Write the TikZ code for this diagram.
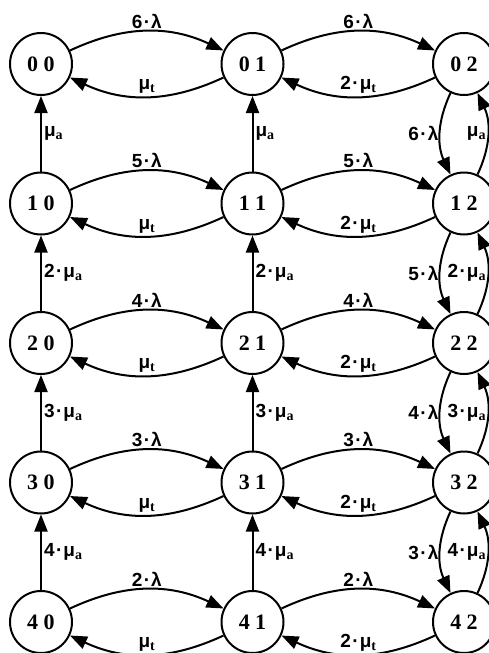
\documentclass[tikz,border=0pt]{standalone}
\usepackage{fontspec}
\setmainfont{Liberation Serif}
\newfontfamily\lblfont{Liberation Sans}
\usetikzlibrary{arrows.meta}
\newcommand{\ix}[1]{\raisebox{-3pt}{\rmfamily\fontsize{14}{14}\selectfont #1}}
\newcommand{\dt}{\kern1.5pt·\kern1pt}

\begin{document}
\begin{tikzpicture}[x=211.5pt, y=139.5pt, line width=2pt,
  state/.style={draw, circle, minimum size=62pt, inner sep=0pt, font=\fontsize{22}{22}\selectfont\bfseries},
  rate/.style={font=\fontsize{19}{19}\selectfont\lblfont\bfseries, inner sep=2pt},
  arr/.style={-{Triangle[length=17pt, width=13pt]}}]
  \useasboundingbox (-41pt,64pt) rectangle (448pt,-589pt);
  % states
  \node[state] (s00) at (0,0) {0 0};
  \node[state] (s01) at (1,0) {0 1};
  \node[state] (s02) at (2,0) {0 2};
  \node[state] (s10) at (0,-1) {1 0};
  \node[state] (s11) at (1,-1) {1 1};
  \node[state] (s12) at (2,-1) {1 2};
  \node[state] (s20) at (0,-2) {2 0};
  \node[state] (s21) at (1,-2) {2 1};
  \node[state] (s22) at (2,-2) {2 2};
  \node[state] (s30) at (0,-3) {3 0};
  \node[state] (s31) at (1,-3) {3 1};
  \node[state] (s32) at (2,-3) {3 2};
  \node[state] (s40) at (0,-4) {4 0};
  \node[state] (s41) at (1,-4) {4 1};
  \node[state] (s42) at (2,-4) {4 2};
  % rows
  \draw[arr] (s00) to[bend left=25] node[rate, above]{6\dt λ} (s01);
  \draw[arr] (s01) to[bend left=25] node[rate, above]{μ\ix{t}} (s00);
  \draw[arr] (s01) to[bend left=25] node[rate, above]{6\dt λ} (s02);
  \draw[arr] (s02) to[bend left=25] node[rate, above]{2\dt μ\ix{t}} (s01);
  \draw[arr] (s10) to[bend left=25] node[rate, above]{5\dt λ} (s11);
  \draw[arr] (s11) to[bend left=25] node[rate, above]{μ\ix{t}} (s10);
  \draw[arr] (s11) to[bend left=25] node[rate, above]{5\dt λ} (s12);
  \draw[arr] (s12) to[bend left=25] node[rate, above]{2\dt μ\ix{t}} (s11);
  \draw[arr] (s20) to[bend left=25] node[rate, above]{4\dt λ} (s21);
  \draw[arr] (s21) to[bend left=25] node[rate, above]{μ\ix{t}} (s20);
  \draw[arr] (s21) to[bend left=25] node[rate, above]{4\dt λ} (s22);
  \draw[arr] (s22) to[bend left=25] node[rate, above]{2\dt μ\ix{t}} (s21);
  \draw[arr] (s30) to[bend left=25] node[rate, above]{3\dt λ} (s31);
  \draw[arr] (s31) to[bend left=25] node[rate, above]{μ\ix{t}} (s30);
  \draw[arr] (s31) to[bend left=25] node[rate, above]{3\dt λ} (s32);
  \draw[arr] (s32) to[bend left=25] node[rate, above]{2\dt μ\ix{t}} (s31);
  \draw[arr] (s40) to[bend left=25] node[rate, above]{2\dt λ} (s41);
  \draw[arr] (s41) to[bend left=25] node[rate, above]{μ\ix{t}} (s40);
  \draw[arr] (s41) to[bend left=25] node[rate, above]{2\dt λ} (s42);
  \draw[arr] (s42) to[bend left=25] node[rate, above]{2\dt μ\ix{t}} (s41);
  % columns 0 and 1
  \draw[arr] (s10) -- node[rate, right]{μ\ix{a}} (s00);
  \draw[arr] (s20) -- node[rate, right]{2\dt μ\ix{a}} (s10);
  \draw[arr] (s30) -- node[rate, right]{3\dt μ\ix{a}} (s20);
  \draw[arr] (s40) -- node[rate, right]{4\dt μ\ix{a}} (s30);
  \draw[arr] (s11) -- node[rate, right]{μ\ix{a}} (s01);
  \draw[arr] (s21) -- node[rate, right]{2\dt μ\ix{a}} (s11);
  \draw[arr] (s31) -- node[rate, right]{3\dt μ\ix{a}} (s21);
  \draw[arr] (s41) -- node[rate, right]{4\dt μ\ix{a}} (s31);
  % column 2
  \draw[arr] (s02) to[bend right=25] node[rate, left, inner sep=1pt]{6\dt λ} (s12);
  \draw[arr] (s12) to[bend right=25] node[rate, left, inner sep=1pt]{μ\ix{a}} (s02);
  \draw[arr] (s12) to[bend right=25] node[rate, left, inner sep=1pt]{5\dt λ} (s22);
  \draw[arr] (s22) to[bend right=25] node[rate, left, inner sep=1pt]{2\dt μ\ix{a}} (s12);
  \draw[arr] (s22) to[bend right=25] node[rate, left, inner sep=1pt]{4\dt λ} (s32);
  \draw[arr] (s32) to[bend right=25] node[rate, left, inner sep=1pt]{3\dt μ\ix{a}} (s22);
  \draw[arr] (s32) to[bend right=25] node[rate, left, inner sep=1pt]{3\dt λ} (s42);
  \draw[arr] (s42) to[bend right=25] node[rate, left, inner sep=1pt]{4\dt μ\ix{a}} (s32);
\end{tikzpicture}
\end{document}
